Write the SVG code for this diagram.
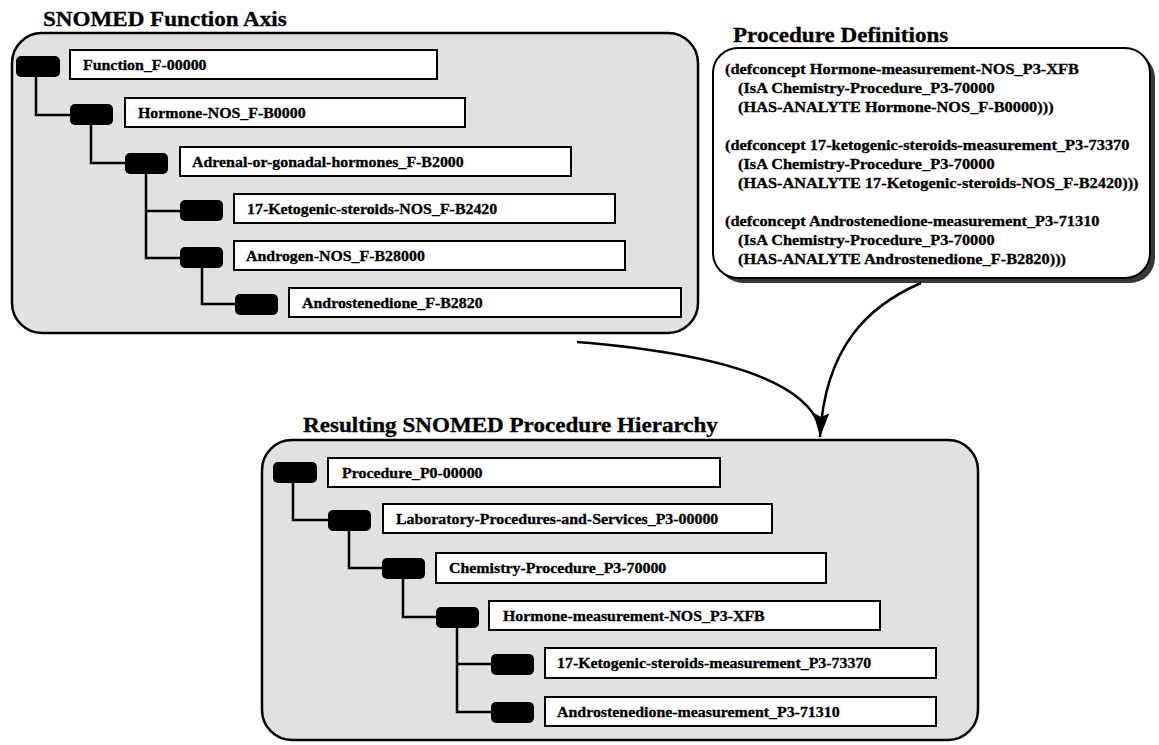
<svg xmlns="http://www.w3.org/2000/svg" width="1159" height="745" viewBox="0 0 1159 745">
<defs>
<style>
.panel{fill:#e1e1e1;stroke:#000;stroke-width:2.5}
.box{fill:#fff;stroke:#000;stroke-width:2}
.pill{fill:#000}
.t{font-family:"Liberation Serif","Times New Roman",serif;font-weight:bold;fill:#000;stroke:#000;stroke-width:0.3}
.lbl{font-size:15px}
.ttl{font-size:21px}
.def{font-size:15px}
.conn{fill:none;stroke:#000;stroke-width:2.5}
.arc{fill:none;stroke:#000;stroke-width:2.5}
</style>
<marker id="arr" viewBox="0 0 24 16" markerWidth="24" markerHeight="16" refX="24" refY="8" orient="auto" markerUnits="userSpaceOnUse">
<path d="M0,0 L24,8 L0,16 L4,8 z" fill="#000"/>
</marker>
</defs>
<rect width="1159" height="745" fill="#fff"/>

<!-- Top panel -->
<g id="function-axis">
<text class="t ttl" transform="translate(43 26) scale(1.1 1)">SNOMED Function Axis</text>
<rect class="panel" x="12" y="33" width="686" height="300" rx="30"/>
</g>

<g id="connectors-top">
<polyline class="conn" points="36,77 36,115 70,115"/>
<polyline class="conn" points="91,124 91,163 125,163"/>
<polyline class="conn" points="146,174 146,258 180,258"/>
<line class="conn" x1="146" y1="211" x2="180" y2="211"/>
<polyline class="conn" points="202,268 202,304 235,304"/>
</g>

<g id="n-function">
<rect class="pill" x="16" y="56" width="44" height="21" rx="5"/>
<rect class="box" x="70" y="50" width="367" height="29"/>
<text class="t lbl" transform="translate(83 70) scale(1.06 1)">Function_F-00000</text>
</g>
<g id="n-hormone-nos">
<rect class="pill" x="70" y="104" width="43" height="21" rx="5"/>
<rect class="box" x="125" y="98" width="340" height="29"/>
<text class="t lbl" transform="translate(138 118) scale(1.06 1)">Hormone-NOS_F-B0000</text>
</g>
<g id="n-adrenal">
<rect class="pill" x="125" y="153" width="43" height="21" rx="5"/>
<rect class="box" x="180" y="147" width="391" height="29"/>
<text class="t lbl" transform="translate(192 167) scale(1.06 1)">Adrenal-or-gonadal-hormones_F-B2000</text>
</g>
<g id="n-17keto">
<rect class="pill" x="180" y="200" width="43" height="21" rx="5"/>
<rect class="box" x="234" y="194" width="381" height="29"/>
<text class="t lbl" transform="translate(247 214) scale(1.06 1)">17-Ketogenic-steroids-NOS_F-B2420</text>
</g>
<g id="n-androgen">
<rect class="pill" x="180" y="247" width="43" height="21" rx="5"/>
<rect class="box" x="234" y="241" width="391" height="29"/>
<text class="t lbl" transform="translate(246 261) scale(1.06 1)">Androgen-NOS_F-B28000</text>
</g>
<g id="n-androstenedione">
<rect class="pill" x="235" y="294" width="43" height="21" rx="5"/>
<rect class="box" x="289" y="288" width="392" height="29"/>
<text class="t lbl" transform="translate(302 308) scale(1.06 1)">Androstenedione_F-B2820</text>
</g>

<!-- Procedure definitions -->
<g id="procedure-definitions">
<text class="t ttl" transform="translate(733 42) scale(1.1 1)">Procedure Definitions</text>
<rect x="718" y="53" width="437" height="230" rx="25" fill="#3a3a3a"/>
<rect x="713" y="48" width="437" height="230" rx="25" fill="#fff" stroke="#000" stroke-width="2"/>
<text class="t def" transform="translate(725 74) scale(1.09 1)">(defconcept Hormone-measurement-NOS_P3-XFB</text>
<text class="t def" transform="translate(738 93) scale(1.09 1)">(IsA Chemistry-Procedure_P3-70000</text>
<text class="t def" transform="translate(738 112) scale(1.09 1)">(HAS-ANALYTE Hormone-NOS_F-B0000)))</text>
<text class="t def" transform="translate(725 150) scale(1.09 1)">(defconcept 17-ketogenic-steroids-measurement_P3-73370</text>
<text class="t def" transform="translate(738 169) scale(1.09 1)">(IsA Chemistry-Procedure_P3-70000</text>
<text class="t def" transform="translate(738 188) scale(1.09 1)">(HAS-ANALYTE 17-Ketogenic-steroids-NOS_F-B2420)))</text>
<text class="t def" transform="translate(725 226) scale(1.09 1)">(defconcept Androstenedione-measurement_P3-71310</text>
<text class="t def" transform="translate(738 245) scale(1.09 1)">(IsA Chemistry-Procedure_P3-70000</text>
<text class="t def" transform="translate(738 264) scale(1.09 1)">(HAS-ANALYTE Androstenedione_F-B2820)))</text>
</g>

<!-- Bottom panel -->
<g id="procedure-hierarchy">
<text class="t ttl" transform="translate(303 432) scale(1.1 1)">Resulting SNOMED Procedure Hierarchy</text>
<rect class="panel" x="262" y="440" width="716" height="300" rx="30"/>
</g>

<g id="connectors-bottom">
<polyline class="conn" points="293,481 293,520 328,520"/>
<polyline class="conn" points="349,530 349,568 383,568"/>
<polyline class="conn" points="403,579 403,617 437,617"/>
<polyline class="conn" points="457,627 457,712 491,712"/>
<line class="conn" x1="457" y1="664" x2="491" y2="664"/>
</g>

<g id="n-procedure">
<rect class="pill" x="273" y="462" width="44" height="21" rx="5"/>
<rect class="box" x="328" y="458" width="392" height="29"/>
<text class="t lbl" transform="translate(342 478) scale(1.06 1)">Procedure_P0-00000</text>
</g>
<g id="n-lab">
<rect class="pill" x="328" y="510" width="43" height="21" rx="5"/>
<rect class="box" x="383" y="504" width="389" height="29"/>
<text class="t lbl" transform="translate(396 524) scale(1.06 1)">Laboratory-Procedures-and-Services_P3-00000</text>
</g>
<g id="n-chemistry">
<rect class="pill" x="382" y="558" width="43" height="21" rx="5"/>
<rect class="box" x="436" y="553" width="390" height="30"/>
<text class="t lbl" transform="translate(449 573) scale(1.06 1)">Chemistry-Procedure_P3-70000</text>
</g>
<g id="n-hormone-meas">
<rect class="pill" x="436" y="607" width="43" height="21" rx="5"/>
<rect class="box" x="489" y="601" width="391" height="29"/>
<text class="t lbl" transform="translate(503 621) scale(1.06 1)">Hormone-measurement-NOS_P3-XFB</text>
</g>
<g id="n-17keto-meas">
<rect class="pill" x="491" y="654" width="43" height="21" rx="5"/>
<rect class="box" x="545" y="648" width="391" height="30"/>
<text class="t lbl" transform="translate(557 668) scale(1.06 1)">17-Ketogenic-steroids-measurement_P3-73370</text>
</g>
<g id="n-andro-meas">
<rect class="pill" x="491" y="702" width="43" height="21" rx="5"/>
<rect class="box" x="545" y="697" width="391" height="29"/>
<text class="t lbl" transform="translate(557 717) scale(1.06 1)">Androstenedione-measurement_P3-71310</text>
</g>

<g id="connectors-derivation">
<path class="arc" d="M 577 342 Q 800 360 820 428"/>
<path class="arc" d="M 921 283 C 870 305 825 345 820 437" marker-end="url(#arr)"/>
</g>
</svg>
